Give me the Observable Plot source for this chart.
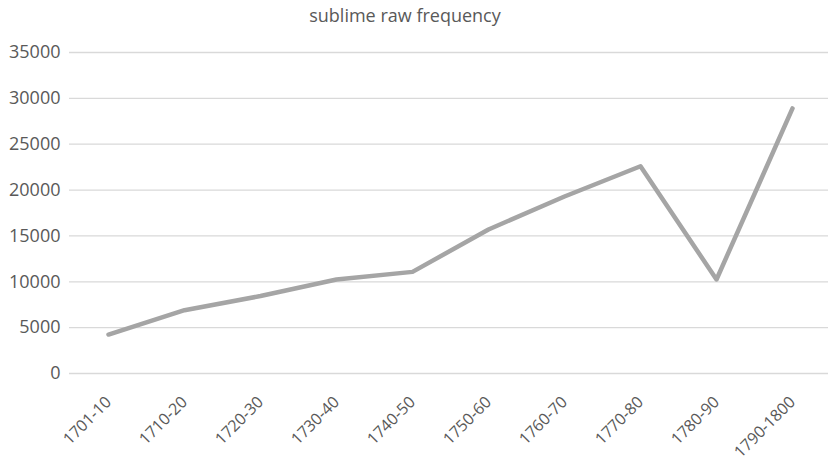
<!DOCTYPE html>
<html>
<head>
<meta charset="utf-8">
<script src="https://cdn.jsdelivr.net/npm/d3@7"></script>
<script src="https://cdn.jsdelivr.net/npm/@observablehq/plot@0.6"></script>
<style>
  html, body { margin: 0; padding: 0; background: #fff; }
  #chart { width: 828px; height: 463px; position: relative; font-family: "Open Sans", sans-serif; }
  #title { position: absolute; left: 0; top: 0; width: 810px; text-align: center; color: #595959; font-size: 18px; line-height: 30px; }
  #chart svg { position: absolute; left: 0; top: 0; }
</style>
</head>
<body>
<div id="chart"><div id="title">sublime raw frequency</div></div>
<script>
// Decades and the raw frequency of "sublime" in each
const periods = ["1701-10", "1710-20", "1720-30", "1730-40", "1740-50", "1750-60", "1760-70", "1770-80", "1780-90", "1790-1800"];
const frequency = [4250, 6900, 8450, 10250, 11080, 15700, 19300, 22600, 10250, 28900];
const yTicks = [0, 5000, 10000, 15000, 20000, 25000, 30000, 35000];

const data = periods.map((p, i) => ({period: p, value: frequency[i]}));

const chart = Plot.plot({
  width: 828,
  height: 463,
  marginTop: 52,
  marginBottom: 90,
  marginLeft: 69,
  marginRight: -3,
  style: {fontFamily: "Open Sans, sans-serif", fontSize: "18px", color: "#595959", background: "transparent", overflow: "visible"},
  x: {type: "point", domain: periods, padding: 0.5},
  y: {domain: [0, 35000]},
  marks: [
    Plot.gridY(yTicks, {stroke: "#d9d9d9", strokeOpacity: 1, strokeWidth: 1.3}),
    Plot.axisY(yTicks, {tickSize: 0, tickPadding: 9, label: null, fontSize: 18, tickFormat: d => String(d)}),
    Plot.axisX({tickSize: 0, tickRotate: -45, tickPadding: 26, label: null, fontSize: 16}),
    Plot.line(data, {x: "period", y: "value", stroke: "#a5a5a5", strokeWidth: 4.5, strokeLinejoin: "round", strokeLinecap: "round"})
  ]
});
document.getElementById("chart").appendChild(chart);
</script>
</body>
</html>
